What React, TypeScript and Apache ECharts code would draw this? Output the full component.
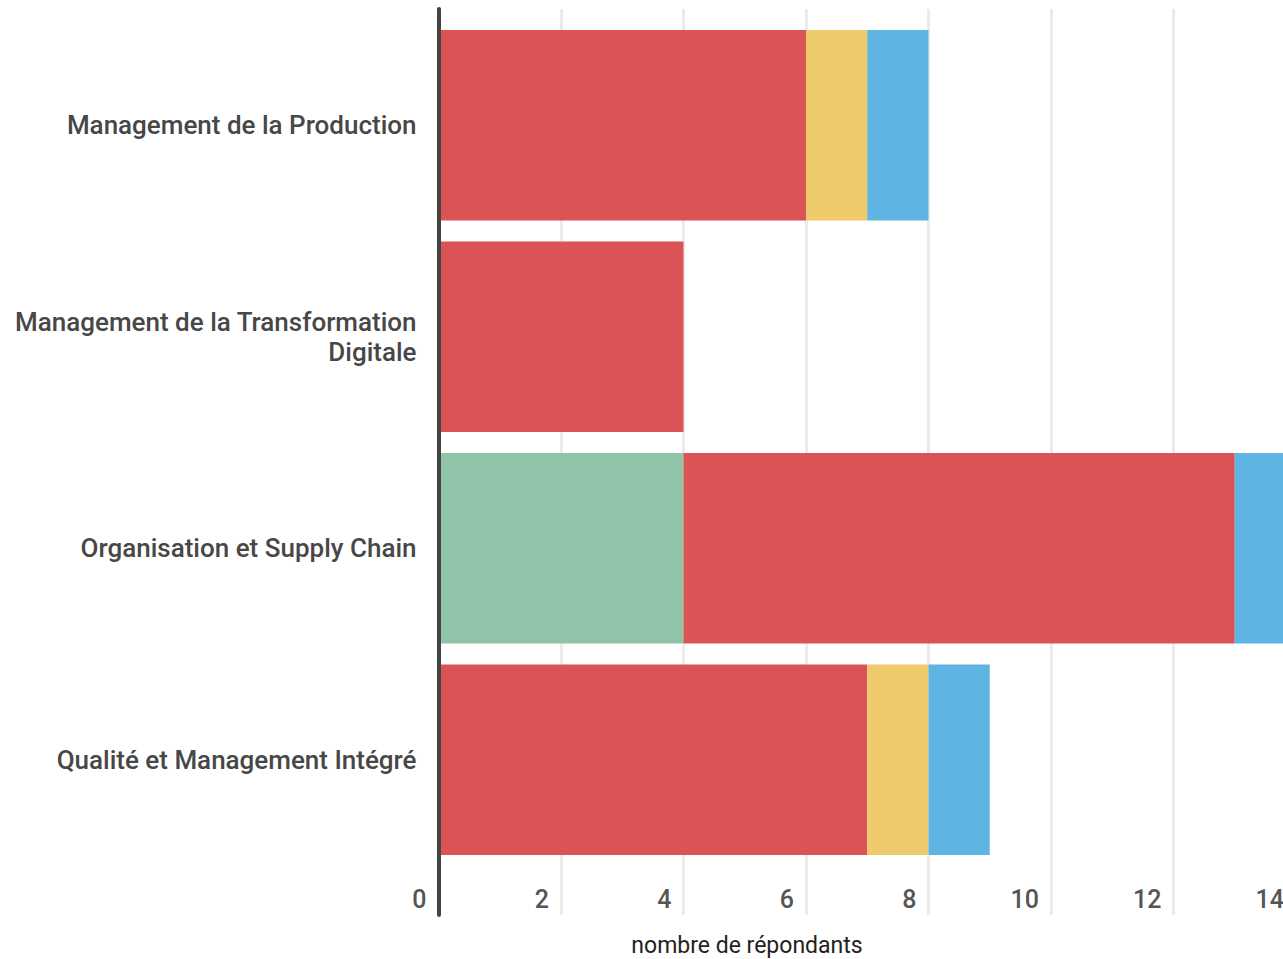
import React, { useEffect, useRef } from "react";
import * as echarts from "echarts";

const categories = [
  "Management de la Production",
  "Management de la Transformation\nDigitale",
  "Organisation et Supply Chain",
  "Qualité et Management Intégré",
];
const seriesNames = ["Série verte", "Série rouge", "Série jaune", "Série bleue"];
const greenValues = [0, 0, 4, 0];
const redValues = [6, 4, 9, 7];
const yellowValues = [1, 0, 0, 1];
const blueValues = [1, 0, 1, 1];
const colors = ["#90C4A9", "#DB5455", "#EFCA6B", "#5EB5E4"];
const xMin = 0;
const xMax = 14;
const xInterval = 2;
const axisTitle = "nombre de répondants";

export default function App() {
  const ref = useRef<HTMLDivElement>(null);
  useEffect(() => {
    if (!ref.current) return;
    const chart = echarts.init(ref.current, undefined, { renderer: "svg" });
    const font = "Roboto";
    const gridLeft = 438.5;
    const gridRight = 1320 - 1296;
    const allValues = [greenValues, redValues, yellowValues, blueValues];
    chart.setOption({
      animation: false,
      textStyle: { fontFamily: font },
      grid: [
        { left: gridLeft, right: gridRight, top: 19.5, height: 846, containLabel: false },
        { left: gridLeft, right: gridRight, top: 9, height: 906, containLabel: false },
      ],
      xAxis: [
        {
          gridIndex: 0,
          type: "value",
          min: xMin,
          max: xMax,
          interval: xInterval,
          axisLine: { show: false },
          axisTick: { show: false },
          splitLine: { show: false },
          axisLabel: {
            show: true,
            align: "right",
            padding: [0, 12, 0, 0],
            margin: 21,
            color: "#555555",
            fontSize: 25,
            fontWeight: 500,
            fontFamily: font,
          },
        },
        {
          gridIndex: 1,
          type: "value",
          min: xMin,
          max: xMax,
          interval: xInterval,
          axisLine: { show: false },
          axisTick: { show: false },
          axisLabel: { show: false },
          splitLine: { show: true, lineStyle: { color: "#ebebeb", width: 3 } },
        },
      ],
      yAxis: [
        {
          gridIndex: 0,
          type: "category",
          inverse: true,
          data: categories,
          axisLine: { show: false },
          axisTick: { show: false },
          splitLine: { show: false },
          axisLabel: {
            margin: 22,
            color: "#474747",
            fontSize: 26,
            fontWeight: 500,
            lineHeight: 30,
            fontFamily: font,
            align: "right",
          },
        },
        {
          gridIndex: 1,
          type: "value",
          min: 0,
          max: 1,
          z: 10,
          axisLine: { show: true, onZero: false, lineStyle: { color: "#444444", width: 4 } },
          axisTick: { show: false },
          axisLabel: { show: false },
          splitLine: { show: false },
        },
      ],
      series: allValues.map((vals, i) => ({
        type: "bar",
        name: seriesNames[i],
        stack: "total",
        xAxisIndex: 0,
        yAxisIndex: 0,
        barCategoryGap: "10%",
        data: vals,
        itemStyle: { color: colors[i] },
      })),
      graphic: [
        {
          type: "text",
          x: 747,
          y: 945,
          style: {
            text: axisTitle,
            fontSize: 23,
            fontFamily: font,
            fill: "#222222",
            textAlign: "center",
            textVerticalAlign: "middle",
          },
        },
      ],
    });
    return () => chart.dispose();
  }, []);
  return (
    <div style={{ position: "absolute", left: 0, top: 0, width: 1283, height: 959, overflow: "hidden" }}>
      <div ref={ref} style={{ width: 1320, height: 959 }} />
    </div>
  );
}
